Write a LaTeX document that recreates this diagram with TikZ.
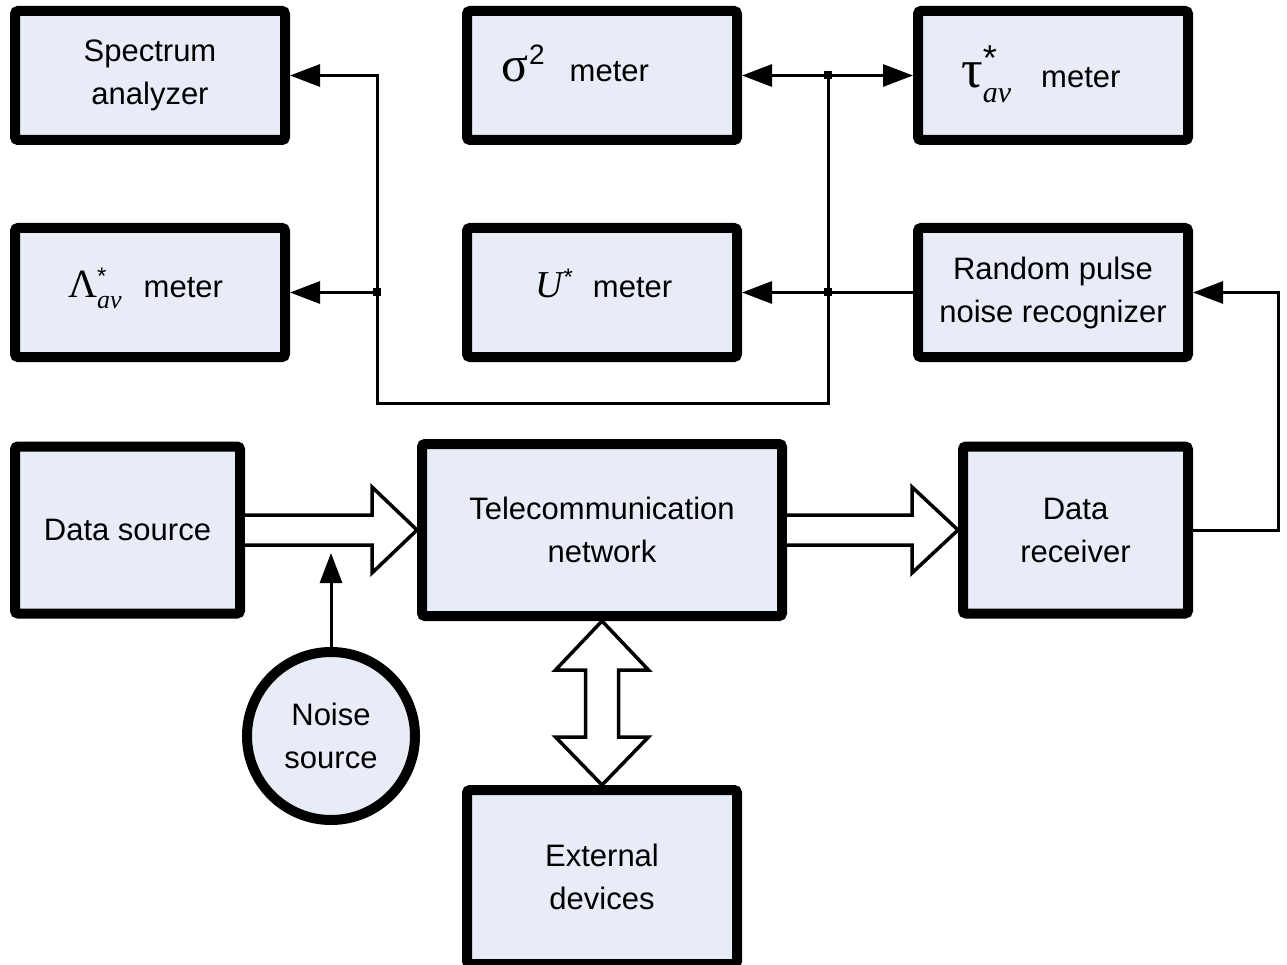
\documentclass[tikz,border=0pt]{standalone}
\usepackage{fontspec}
\setmainfont{Liberation Sans}
\newfontfamily\tms{Liberation Serif}
\usetikzlibrary{arrows.meta,calc}
\definecolor{boxfill}{HTML}{E7ECF7}
\begin{document}
\begin{tikzpicture}[x=1pt,y=-1pt,
  blk/.style={draw,line width=10pt,fill=boxfill,rounded corners=3pt,inner sep=0pt,align=center,font=\fontsize{31}{43}\selectfont},
  lbl/.style={anchor=base west,inner sep=0pt,font=\fontsize{31}{43}\selectfont},
  wire/.style={line width=3pt},
  tip/.style={-{Triangle[length=30pt,width=22pt]}},
  hollow/.style={draw,fill=white,line width=3.5pt,line join=miter}]
\useasboundingbox (0,0) rectangle (1287,965);
% boxes
\node[blk,minimum width=270,minimum height=129] (spec) at (150,75.5) {Spectrum\\analyzer};
\node[blk,minimum width=270,minimum height=129] (sig) at (602,75.5) {};
\node[blk,minimum width=270,minimum height=129] (tau) at (1053,75.5) {};
\node[blk,minimum width=270,minimum height=129] (lam) at (150,292.5) {};
\node[blk,minimum width=270,minimum height=129] (U) at (602,292.5) {};
\node[blk,minimum width=270,minimum height=129] (rec) at (1053,292.5) {Random pulse\\noise recognizer};
\node[blk,minimum width=225,minimum height=167] (ds) at (127.5,530) {Data source};
\node[blk,minimum width=360,minimum height=172] (tel) at (602,530) {Telecommunication\\network};
\node[blk,minimum width=225,minimum height=167] (dr) at (1075.5,530) {Data\\receiver};
\node[blk,minimum width=270,minimum height=174] (ext) at (602,877) {External\\devices};
\node[blk,circle,minimum size=168] (noise) at (331,736) {Noise\\source};
% math labels
\node[lbl] (sigl) at (501,82) {{\tms\fontsize{50}{50}\selectfont σ}\hspace{1pt}\raisebox{17pt}{\fontsize{28}{28}\selectfont 2}\hspace{25pt}meter};
\node[lbl] (taul) at (961,88) {{\tms\fontsize{54}{54}\selectfont τ}\rlap{\raisebox{17pt}{\fontsize{36}{36}\selectfont *}}\raisebox{-15pt}{\tms\itshape\fontsize{30}{30}\selectfont av}\hspace{30pt}meter};
\node[lbl] (laml) at (68,298) {{\tms\fontsize{40}{40}\selectfont Λ}\rlap{\raisebox{13pt}{\fontsize{24}{24}\selectfont *}}\raisebox{-11pt}{\tms\itshape\fontsize{26}{26}\selectfont av}\hspace{22pt}meter};
\node[lbl] (Ul) at (535,298) {{\tms\itshape\fontsize{38}{38}\selectfont U}\hspace{1pt}\raisebox{12pt}{\fontsize{24}{24}\selectfont *}\hspace{20pt}meter};
% wires
\coordinate (j1) at (828,75.5);
\coordinate (j2) at (828,292.5);
\coordinate (j3) at (377,292.5);
\coordinate (c1) at (828,403);
\coordinate (c2) at (377,403);
\coordinate (c3) at (1278,530);
\coordinate (nt) at (331,553);
\draw[wire,tip] (j1) -- (sig.east);
\draw[wire,tip] (j1) -- (tau.west);
\draw[wire,tip] (rec.west) -- (U.east);
\draw[wire,tip] (j1) -- (c1) -- (c2) |- (spec.east);
\draw[wire,tip] (j3) -- (lam.east);
\draw[wire,tip] (dr.east) -- (c3) |- (rec.east);
\foreach \p in {j1,j2,j3} \fill ($(\p)+(-4,-4)$) rectangle ($(\p)+(4,4)$);
\draw[wire,tip] (noise.north) -- (nt);
% hollow arrows
\draw[hollow] ($(ds.east)+(0,-15)$) -- (372,515) -- (372,487) -- (tel.west) -- (372,573) -- (372,545) -- ($(ds.east)+(0,15)$);
\draw[hollow] ($(tel.east)+(0,-15)$) -- (912,515) -- (912,487) -- (dr.west) -- (912,573) -- (912,545) -- ($(tel.east)+(0,15)$);
\draw[hollow] (tel.south) -- (648.5,670) -- (618.5,670) -- (618.5,737) -- (648.5,737) -- (ext.north) -- (555.5,737) -- (585.5,737) -- (585.5,670) -- (555.5,670) -- cycle;
\end{tikzpicture}
\end{document}
